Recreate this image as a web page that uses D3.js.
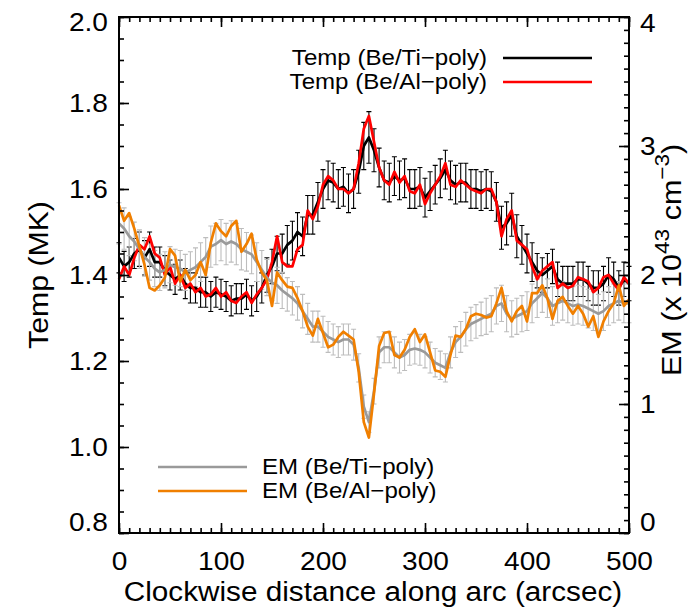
<!DOCTYPE html>
<html>
<head>
<meta charset="utf-8">
<script src="https://cdn.jsdelivr.net/npm/d3@7"></script>
<style>
  body { margin: 0; background: #fff; }
  text { font-family: "Liberation Sans", Arial, sans-serif; fill: #000; }
</style>
</head>
<body>
<div id="chart"></div>
<script>
// sample positions along the arc (arcsec)
var dist = d3.range(0, 505, 5);

// temperature, MK
var tempTi = [1.44,1.42,1.43,1.45,1.46,1.44,1.46,1.43,1.43,1.41,
  1.40,1.39,1.40,1.38,1.37,1.37,1.36,1.36,1.35,1.36,
  1.355,1.35,1.34,1.345,1.345,1.355,1.34,1.35,1.37,1.40,
  1.42,1.45,1.45,1.47,1.48,1.50,1.49,1.54,1.54,1.57,
  1.60,1.62,1.615,1.60,1.605,1.59,1.60,1.64,1.70,1.72,
  1.69,1.65,1.62,1.615,1.63,1.62,1.625,1.60,1.60,1.605,
  1.58,1.595,1.61,1.625,1.645,1.62,1.61,1.615,1.615,1.60,
  1.60,1.595,1.60,1.595,1.57,1.51,1.52,1.54,1.49,1.47,
  1.45,1.43,1.41,1.40,1.41,1.42,1.39,1.38,1.38,1.38,
  1.39,1.39,1.38,1.37,1.37,1.38,1.40,1.39,1.37,1.39,
  1.38];
var tempAl = [1.39,1.42,1.40,1.44,1.47,1.46,1.49,1.45,1.44,1.40,
  1.42,1.38,1.40,1.37,1.38,1.36,1.37,1.35,1.355,1.37,
  1.35,1.36,1.34,1.335,1.35,1.36,1.335,1.355,1.37,1.39,
  1.43,1.49,1.43,1.42,1.42,1.46,1.47,1.55,1.53,1.56,
  1.61,1.63,1.62,1.60,1.60,1.59,1.60,1.66,1.74,1.77,
  1.71,1.65,1.62,1.61,1.64,1.615,1.63,1.595,1.59,1.61,
  1.565,1.59,1.61,1.63,1.66,1.61,1.605,1.62,1.61,1.60,
  1.595,1.59,1.60,1.60,1.57,1.49,1.53,1.55,1.48,1.47,
  1.46,1.42,1.39,1.41,1.42,1.43,1.37,1.38,1.37,1.375,
  1.395,1.39,1.385,1.36,1.37,1.395,1.40,1.38,1.365,1.395,
  1.38];
var tempErr = [.035,.035,.035,.035,.04,.04,.04,.035,.035,.035,
  .035,.035,.035,.035,.035,.035,.035,.035,.035,.035,
  .035,.035,.035,.035,.035,.035,.035,.035,.035,.04,
  .04,.04,.045,.045,.045,.045,.045,.045,.045,.045,
  .045,.045,.045,.045,.045,.045,.045,.05,.055,.06,
  .05,.045,.045,.045,.045,.045,.045,.045,.045,.045,
  .045,.045,.045,.045,.045,.045,.045,.045,.045,.045,
  .045,.045,.045,.045,.045,.05,.05,.05,.05,.045,
  .045,.045,.04,.04,.04,.04,.04,.04,.04,.04,
  .04,.04,.04,.04,.04,.04,.04,.04,.04,.04,
  .04];

// emission measure, 1e43 cm^-3
var emTi = [2.40,2.36,2.30,2.26,2.20,2.14,2.10,2.05,2.02,2.04,
  2.08,2.06,2.05,2.02,2.04,2.06,2.10,2.14,2.22,2.24,
  2.27,2.24,2.26,2.24,2.20,2.18,2.16,2.10,2.04,1.98,
  1.94,1.92,1.88,1.85,1.82,1.78,1.72,1.66,1.60,1.60,
  1.56,1.52,1.50,1.48,1.50,1.50,1.46,1.28,0.98,0.86,
  1.10,1.40,1.44,1.44,1.40,1.36,1.38,1.42,1.43,1.42,
  1.40,1.36,1.32,1.30,1.28,1.40,1.48,1.52,1.58,1.62,
  1.64,1.66,1.68,1.70,1.76,1.78,1.70,1.66,1.68,1.70,
  1.72,1.78,1.82,1.86,1.82,1.76,1.78,1.80,1.78,1.76,
  1.77,1.76,1.74,1.72,1.70,1.72,1.76,1.78,1.80,1.78,
  1.78];
var emAl = [2.54,2.42,2.48,2.36,2.22,2.08,1.90,1.88,1.92,1.98,
  2.20,2.15,1.95,2.04,1.96,2.00,2.10,2.00,2.25,2.40,
  2.34,2.30,2.38,2.42,2.18,2.24,2.32,2.12,2.02,1.96,
  1.76,2.02,1.96,1.91,1.90,1.82,1.72,1.60,1.53,1.66,
  1.55,1.44,1.46,1.52,1.56,1.53,1.50,1.25,0.86,0.74,
  1.08,1.45,1.55,1.56,1.38,1.36,1.42,1.52,1.58,1.48,
  1.54,1.40,1.26,1.25,1.21,1.38,1.53,1.52,1.58,1.68,
  1.70,1.69,1.67,1.68,1.78,1.90,1.72,1.64,1.72,1.76,
  1.64,1.86,1.86,1.92,1.82,1.66,1.80,1.83,1.76,1.70,
  1.76,1.70,1.60,1.68,1.52,1.64,1.72,1.78,1.92,1.76,
  1.81];
var emErr = [.16,.16,.15,.15,.15,.15,.14,.14,.14,.14,
  .14,.14,.14,.14,.14,.15,.15,.15,.16,.16,
  .16,.16,.16,.16,.16,.15,.15,.15,.15,.14,
  .14,.14,.14,.13,.13,.13,.13,.12,.12,.12,
  .12,.12,.12,.12,.12,.12,.12,.11,.09,.08,
  .10,.12,.12,.12,.12,.12,.12,.12,.12,.12,
  .12,.12,.11,.11,.11,.12,.12,.12,.13,.13,
  .13,.13,.14,.14,.14,.14,.14,.14,.14,.14,
  .15,.15,.15,.15,.15,.15,.15,.15,.15,.15,
  .15,.15,.15,.15,.15,.15,.15,.15,.15,.15,
  .15];

var xTicks = [0, 100, 200, 300, 400, 500],
    tTicks = [0.8, 1.0, 1.2, 1.4, 1.6, 1.8, 2.0],
    eTicks = [0, 1, 2, 3, 4];

var width = 692, height = 611,
    plotL = 119, plotR = 629, plotT = 17, plotB = 533;

var svg = d3.select("#chart").append("svg")
    .attr("width", width)
    .attr("height", height);

var x = d3.scaleLinear().domain([0, 500]).range([plotL, plotR]);
var yT = d3.scaleLinear().domain([0.8, 2.0]).range([plotB, plotT]);
var yE = d3.scaleLinear().domain([0, 4]).range([plotB, plotT]);

var rows = dist.map(function(d, i) {
  return { d: d, tt: tempTi[i], ta: tempAl[i], te: tempErr[i],
           et: emTi[i], ea: emAl[i], ee: emErr[i] };
});

// the IDL font is a little wider than Liberation Sans
function widen(sel, f) {
  sel.each(function() {
    var n = this;
    n.setAttribute("textLength", n.getComputedTextLength() * f);
    n.setAttribute("lengthAdjust", "spacingAndGlyphs");
  });
}

// error bars: vertical line with short caps
function errPath(y, key, ekey) {
  return function(r) {
    var cx = x(r.d), y0 = y(r[key] - r[ekey]), y1 = y(r[key] + r[ekey]);
    return "M" + cx + "," + y0 + "V" + y1 +
      "M" + (cx - 2.5) + "," + y1 + "H" + (cx + 2.5) +
      "M" + (cx - 2.5) + "," + y0 + "H" + (cx + 2.5);
  };
}

var plot = svg.append("g");

plot.selectAll(".terr").data(rows).enter().append("path")
    .attr("class", "terr")
    .attr("d", errPath(yT, "tt", "te"))
    .attr("fill", "none").attr("stroke", "#000").attr("stroke-width", 1.1);

plot.selectAll(".eerr").data(rows).enter().append("path")
    .attr("class", "eerr")
    .attr("d", errPath(yE, "et", "ee"))
    .attr("fill", "none").attr("stroke", "#bdbdbd").attr("stroke-width", 1.1);

function line(y, key) {
  return d3.line().x(function(r) { return x(r.d); }).y(function(r) { return y(r[key]); });
}

var series = [
  { y: yT, key: "tt", color: "#000000" },
  { y: yT, key: "ta", color: "#ff0000" },
  { y: yE, key: "et", color: "#9a9a9a" },
  { y: yE, key: "ea", color: "#f07f00" }
];
series.forEach(function(s) {
  plot.append("path").datum(rows)
      .attr("d", line(s.y, s.key))
      .attr("fill", "none")
      .attr("stroke", s.color)
      .attr("stroke-width", 2.7)
      .attr("stroke-linejoin", "round");
});

// axes
var fnt = "26px 'Liberation Sans', Arial, sans-serif";

function styleAxis(g) {
  g.select(".domain").remove();
  g.selectAll("line").attr("stroke", "#000").attr("stroke-width", 1.6);
  g.selectAll("text").style("font", fnt).attr("fill", "#000");
}

svg.append("g").attr("transform", "translate(0," + plotB + ")")
    .call(d3.axisBottom(x).ticks(50).tickSize(-5).tickFormat(""))
    .call(styleAxis);
var xAx = svg.append("g").attr("transform", "translate(0," + plotB + ")")
    .call(d3.axisBottom(x).tickValues(xTicks).tickSize(-10).tickPadding(19).tickFormat(d3.format("d")))
    .call(styleAxis);
svg.append("g").attr("transform", "translate(0," + plotT + ")")
    .call(d3.axisTop(x).ticks(50).tickSize(-5).tickFormat(""))
    .call(styleAxis);
svg.append("g").attr("transform", "translate(0," + plotT + ")")
    .call(d3.axisTop(x).tickValues(xTicks).tickSize(-10).tickFormat(""))
    .call(styleAxis);

svg.append("g").attr("transform", "translate(" + plotL + ",0)")
    .call(d3.axisLeft(yT).ticks(24).tickSize(-5).tickFormat(""))
    .call(styleAxis);
var tAx = svg.append("g").attr("transform", "translate(" + plotL + ",0)")
    .call(d3.axisLeft(yT).tickValues(tTicks).tickSize(-10).tickPadding(11).tickFormat(d3.format(".1f")))
    .call(styleAxis);

svg.append("g").attr("transform", "translate(" + plotR + ",0)")
    .call(d3.axisRight(yE).ticks(40).tickSize(-5).tickFormat(""))
    .call(styleAxis);
var eAx = svg.append("g").attr("transform", "translate(" + plotR + ",0)")
    .call(d3.axisRight(yE).tickValues(eTicks).tickSize(-10).tickPadding(11).tickFormat(d3.format("d")))
    .call(styleAxis);

widen(xAx.selectAll("text"), 1.08);
widen(tAx.selectAll("text"), 1.08);
widen(eAx.selectAll("text"), 1.08);

// end labels sit inside the frame, as in the original
tAx.selectAll("text").filter(function(d) { return d === 0.8; }).attr("transform", "translate(0,-11)");
tAx.selectAll("text").filter(function(d) { return d === 2.0; }).attr("transform", "translate(0,5)");
eAx.selectAll("text").filter(function(d) { return d === 0; }).attr("transform", "translate(0,-11)");
eAx.selectAll("text").filter(function(d) { return d === 4; }).attr("transform", "translate(0,6)");

svg.append("rect")
    .attr("x", plotL).attr("y", plotT)
    .attr("width", plotR - plotL).attr("height", plotB - plotT)
    .attr("fill", "none").attr("stroke", "#000").attr("stroke-width", 2);

// axis titles
var xTitle = svg.append("text")
    .attr("x", 373).attr("y", 601)
    .attr("text-anchor", "middle")
    .style("font", "27px 'Liberation Sans', Arial, sans-serif")
    .text("Clockwise distance along arc (arcsec)");
widen(xTitle, 1.1);

var tTitle = svg.append("text")
    .attr("transform", "translate(48,275) rotate(-90)")
    .attr("text-anchor", "middle")
    .style("font", "27px 'Liberation Sans', Arial, sans-serif")
    .text("Temp (MK)");
widen(tTitle, 1.12);

var emTitle = svg.append("text")
    .attr("transform", "translate(681,376) rotate(-90) scale(1.13,1)")
    .attr("text-anchor", "start")
    .style("font", "27px 'Liberation Sans', Arial, sans-serif");
emTitle.append("tspan").text("EM (x 10");
emTitle.append("tspan").attr("dy", -12).style("font-size", "20px").text("43");
emTitle.append("tspan").attr("dy", 12).text(" cm");
emTitle.append("tspan").attr("dy", -12).style("font-size", "20px").text("\u22123");
emTitle.append("tspan").attr("dy", 12).text(")");

// legends
var legFont = "22.5px 'Liberation Sans', Arial, sans-serif";
var legTop = [
  { label: "Temp (Be/Ti\u2212poly)", color: "#000000", y: 58 },
  { label: "Temp (Be/Al\u2212poly)", color: "#ff0000", y: 82 }
];
legTop.forEach(function(l) {
  var t = svg.append("text").attr("x", 487).attr("y", l.y + 7)
      .attr("text-anchor", "end").style("font", legFont).text(l.label);
  widen(t, 1.07);
  svg.append("line").attr("x1", 503).attr("x2", 592).attr("y1", l.y).attr("y2", l.y)
      .attr("stroke", l.color).attr("stroke-width", 2.7);
});
var legBot = [
  { label: "EM (Be/Ti\u2212poly)", color: "#9a9a9a", y: 467 },
  { label: "EM (Be/Al\u2212poly)", color: "#f07f00", y: 491 }
];
legBot.forEach(function(l) {
  svg.append("line").attr("x1", 158).attr("x2", 247).attr("y1", l.y).attr("y2", l.y)
      .attr("stroke", l.color).attr("stroke-width", 2.7);
  var t = svg.append("text").attr("x", 262).attr("y", l.y + 7)
      .style("font", legFont).text(l.label);
  widen(t, 1.07);
});
</script>
</body>
</html>
